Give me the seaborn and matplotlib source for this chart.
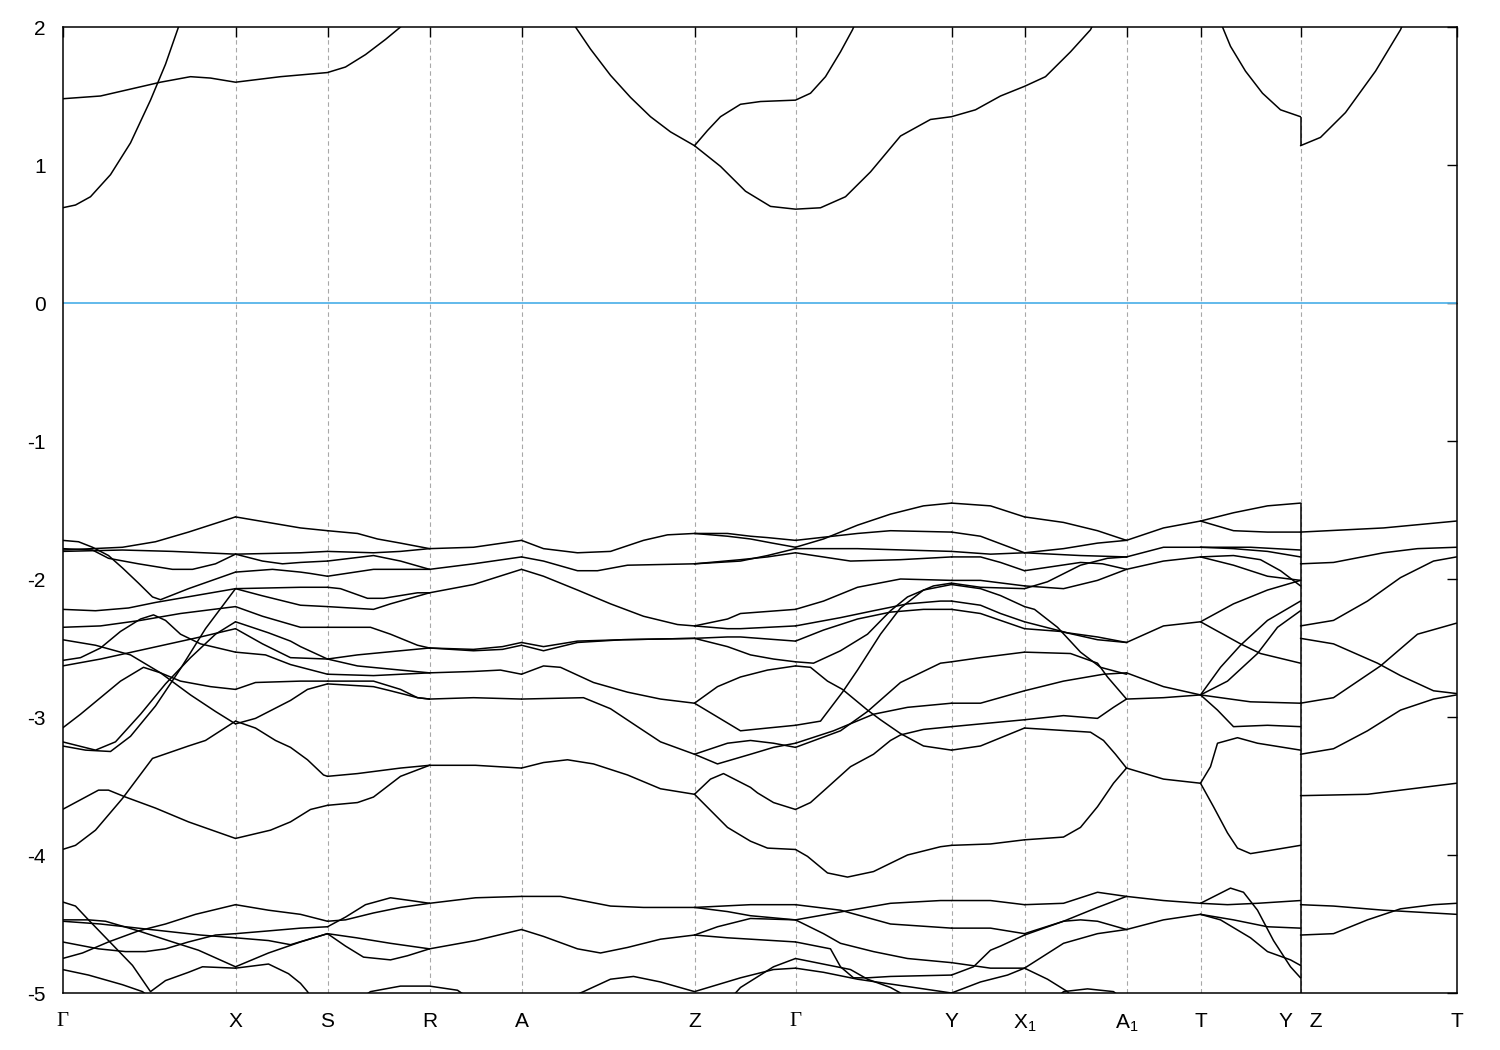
import pandas as pd
import matplotlib
matplotlib.use("Agg")
import matplotlib.pyplot as plt
import seaborn as sns

# high-symmetry points along the k-path (arb. path length)
k_ticks = [0, 173, 265, 367, 459, 632, 733, 889, 962, 1064, 1138, 1238, 1394]
k_labels = ["Γ", "X", "S", "R", "A", "Z", "Γ", "Y", "X$_1$", "A$_1$", "T", "Y   Z", "T"]
e_ticks = [-5, -4, -3, -2, -1, 0, 1, 2]

# each band piece: list of (k, E in eV)
cond_bands = [
    [(0, 0.69), (13, 0.71), (28, 0.77), (48, 0.93), (68, 1.16), (88, 1.47), (103, 1.73), (116, 2.0), (124, 2.15)],
    [(0, 1.48), (38, 1.50), (68, 1.55), (98, 1.60), (128, 1.64), (148, 1.63), (173, 1.60), (218, 1.64),
     (265, 1.67), (283, 1.71), (303, 1.80), (323, 1.91), (338, 2.0), (348, 2.08)],
    [(503, 2.1), (513, 2.0), (528, 1.84), (548, 1.65), (568, 1.49), (588, 1.35), (608, 1.24), (632, 1.14)],
    [(632, 1.14), (645, 1.25), (658, 1.35), (678, 1.44), (698, 1.46), (733, 1.47), (748, 1.52), (763, 1.64),
     (778, 1.82), (790, 1.98), (797, 2.1)],
    [(632, 1.14), (658, 0.99), (683, 0.81), (708, 0.70), (733, 0.68), (758, 0.69), (783, 0.77), (808, 0.95),
     (838, 1.21), (868, 1.33), (889, 1.35), (913, 1.40), (938, 1.50), (962, 1.57), (983, 1.64), (1008, 1.82),
     (1028, 1.98), (1036, 2.1)],
    [(1152, 2.1), (1160, 2.0), (1168, 1.86), (1183, 1.68), (1200, 1.52), (1218, 1.40), (1238, 1.35)],
    [(1238, 1.14), (1258, 1.20), (1283, 1.38), (1313, 1.68), (1338, 1.98), (1345, 2.1)],
]

gx_bands = [
    [(0, -1.79), (60, -1.77), (93, -1.73), (126, -1.66), (173, -1.55)],
    [(0, -1.78), (30, -1.79), (46, -1.85), (76, -1.89), (110, -1.93), (130, -1.93), (153, -1.89), (173, -1.82)],
    [(0, -1.80), (60, -1.79), (110, -1.80), (173, -1.82)],
    [(0, -1.72), (16, -1.73), (30, -1.77), (46, -1.83), (60, -1.92), (76, -2.03), (90, -2.13), (98, -2.15),
     (126, -2.07), (173, -1.95)],
    [(0, -2.22), (33, -2.23), (66, -2.21), (93, -2.17), (133, -2.12), (173, -2.07)],
    [(0, -2.35), (38, -2.34), (78, -2.30), (118, -2.25), (173, -2.20)],
    [(0, -2.59), (18, -2.57), (38, -2.50), (58, -2.38), (78, -2.29), (91, -2.26), (103, -2.30), (118, -2.40),
     (138, -2.47), (173, -2.53)],
    [(0, -2.63), (38, -2.58), (88, -2.50), (138, -2.42), (173, -2.36)],
    [(0, -2.44), (33, -2.48), (68, -2.55), (98, -2.68), (128, -2.84), (153, -2.96), (173, -3.05)],
    [(0, -3.08), (18, -2.98), (38, -2.86), (58, -2.74), (81, -2.64), (98, -2.68), (118, -2.74), (148, -2.78), (173, -2.80)],
    [(0, -3.18), (33, -3.24), (53, -3.18), (78, -2.98), (103, -2.76), (128, -2.57), (153, -2.40), (173, -2.31)],
    [(0, -3.21), (23, -3.24), (48, -3.25), (68, -3.14), (93, -2.92), (118, -2.65), (143, -2.36), (173, -2.07)],
    [(0, -3.67), (18, -3.60), (36, -3.53), (46, -3.53), (63, -3.58), (93, -3.66), (126, -3.76), (173, -3.88)],
    [(0, -3.96), (13, -3.93), (33, -3.82), (60, -3.59), (90, -3.30), (126, -3.21), (143, -3.17), (173, -3.03)],
    [(0, -4.34), (13, -4.37), (26, -4.47), (46, -4.62), (70, -4.80), (88, -4.99), (103, -4.91), (126, -4.85),
     (140, -4.81), (173, -4.82)],
    [(0, -4.47), (26, -4.47), (43, -4.48), (76, -4.55), (110, -4.63), (136, -4.69), (173, -4.81)],
    [(0, -4.48), (38, -4.50), (88, -4.54), (138, -4.58), (173, -4.60)],
    [(0, -4.63), (36, -4.68), (63, -4.70), (83, -4.70), (103, -4.68), (126, -4.63), (153, -4.58), (173, -4.57)],
    [(0, -4.75), (20, -4.71), (46, -4.63), (76, -4.55), (103, -4.50), (133, -4.43), (173, -4.36)],
    [(0, -4.83), (26, -4.87), (60, -4.94), (80, -4.99), (90, -5.05)],
]

xs_bands = [
    [(173, -1.55), (238, -1.63), (265, -1.65)],
    [(173, -1.82), (238, -1.81), (265, -1.80)],
    [(173, -1.82), (200, -1.87), (220, -1.89), (238, -1.88), (265, -1.87)],
    [(173, -1.95), (210, -1.93), (238, -1.95), (248, -1.96), (265, -1.98)],
    [(173, -2.07), (238, -2.06), (265, -2.06)],
    [(173, -2.07), (199, -2.12), (238, -2.19), (265, -2.20)],
    [(173, -2.20), (200, -2.27), (238, -2.35), (265, -2.35)],
    [(173, -2.31), (206, -2.39), (228, -2.45), (238, -2.49), (265, -2.58)],
    [(173, -2.36), (200, -2.47), (228, -2.57), (265, -2.58)],
    [(173, -2.53), (203, -2.55), (228, -2.62), (265, -2.69)],
    [(173, -2.80), (193, -2.75), (238, -2.74), (265, -2.74)],
    [(173, -3.05), (193, -3.01), (228, -2.88), (245, -2.80), (265, -2.76)],
    [(173, -3.03), (193, -3.08), (213, -3.17), (228, -3.22), (245, -3.31), (261, -3.42), (265, -3.43)],
    [(173, -3.88), (208, -3.82), (228, -3.76), (248, -3.67), (265, -3.64)],
    [(173, -4.36), (206, -4.40), (238, -4.43), (265, -4.48)],
    [(173, -4.57), (206, -4.55), (238, -4.53), (265, -4.52)],
    [(173, -4.60), (206, -4.62), (228, -4.65), (265, -4.57)],
    [(173, -4.81), (206, -4.71), (238, -4.63), (265, -4.57)],
    [(173, -4.82), (206, -4.79), (226, -4.86), (238, -4.93), (245, -4.99), (250, -5.05)],
]

sr_bands = [
    [(265, -1.65), (295, -1.67), (315, -1.71), (338, -1.74), (367, -1.78)],
    [(265, -1.80), (311, -1.81), (338, -1.80), (367, -1.78)],
    [(265, -1.87), (311, -1.83), (338, -1.87), (367, -1.93)],
    [(265, -1.98), (311, -1.93), (345, -1.93), (367, -1.93)],
    [(265, -2.06), (278, -2.07), (305, -2.14), (321, -2.14), (355, -2.10), (367, -2.10)],
    [(265, -2.20), (311, -2.22), (328, -2.18), (367, -2.10)],
    [(265, -2.35), (308, -2.35), (328, -2.40), (355, -2.48), (367, -2.50)],
    [(265, -2.58), (295, -2.55), (338, -2.52), (367, -2.50)],
    [(265, -2.58), (295, -2.63), (338, -2.66), (367, -2.68)],
    [(265, -2.69), (311, -2.70), (367, -2.68)],
    [(265, -2.74), (311, -2.74), (338, -2.80), (355, -2.86), (367, -2.87)],
    [(265, -2.76), (311, -2.78), (328, -2.81), (355, -2.86), (367, -2.87)],
    [(265, -3.43), (295, -3.41), (338, -3.37), (367, -3.35)],
    [(265, -3.64), (295, -3.62), (311, -3.58), (338, -3.43), (367, -3.35)],
    [(265, -4.48), (283, -4.47), (311, -4.42), (338, -4.38), (367, -4.35)],
    [(265, -4.52), (283, -4.45), (303, -4.36), (328, -4.31), (348, -4.33), (367, -4.35)],
    [(265, -4.57), (294, -4.60), (328, -4.64), (367, -4.68)],
    [(265, -4.57), (283, -4.66), (301, -4.74), (328, -4.76), (345, -4.73), (367, -4.68)],
    [(300, -5.03), (308, -4.99), (338, -4.95), (367, -4.95), (395, -4.98), (405, -5.03)],
]

ra_bands = [
    [(367, -1.78), (411, -1.77), (459, -1.72)],
    [(367, -1.93), (411, -1.89), (459, -1.84)],
    [(367, -2.10), (411, -2.04), (459, -1.93)],
    [(367, -2.50), (411, -2.51), (440, -2.49), (459, -2.46)],
    [(367, -2.50), (411, -2.52), (440, -2.51), (459, -2.48)],
    [(367, -2.68), (411, -2.67), (438, -2.66), (459, -2.69)],
    [(367, -2.87), (411, -2.86), (459, -2.87)],
    [(367, -3.35), (413, -3.35), (459, -3.37)],
    [(367, -4.35), (413, -4.31), (459, -4.30)],
    [(367, -4.68), (413, -4.62), (459, -4.54)],
]

az_bands = [
    [(459, -1.72), (481, -1.78), (515, -1.81), (548, -1.80), (581, -1.72), (605, -1.68), (632, -1.67)],
    [(459, -1.84), (481, -1.87), (515, -1.94), (535, -1.94), (565, -1.90), (632, -1.89)],
    [(459, -1.93), (481, -1.98), (515, -2.08), (548, -2.18), (581, -2.27), (615, -2.33), (632, -2.34)],
    [(459, -2.46), (481, -2.49), (515, -2.45), (560, -2.44), (632, -2.43)],
    [(459, -2.48), (481, -2.52), (515, -2.46), (560, -2.44), (632, -2.43)],
    [(459, -2.69), (481, -2.63), (498, -2.64), (531, -2.75), (565, -2.82), (598, -2.87), (632, -2.90)],
    [(459, -2.87), (521, -2.86), (548, -2.94), (575, -3.07), (598, -3.18), (632, -3.27)],
    [(459, -3.37), (481, -3.33), (505, -3.31), (531, -3.34), (565, -3.42), (598, -3.52), (632, -3.56)],
    [(459, -4.30), (498, -4.30), (548, -4.37), (581, -4.38), (632, -4.38)],
    [(459, -4.54), (481, -4.59), (515, -4.68), (538, -4.71), (565, -4.67), (598, -4.61), (632, -4.58)],
    [(505, -5.04), (521, -4.99), (548, -4.90), (571, -4.88), (598, -4.92), (632, -4.99), (655, -4.94),
     (678, -4.89), (711, -4.83), (733, -4.82)],
    [(668, -5.04), (673, -5.0), (678, -4.96), (711, -4.81), (733, -4.75)],
]

zg_bands = [
    [(632, -1.67), (665, -1.67), (688, -1.69), (705, -1.70), (733, -1.72)],
    [(632, -1.67), (665, -1.69), (688, -1.71), (710, -1.74), (733, -1.77)],
    [(632, -1.89), (678, -1.87), (705, -1.83), (733, -1.78)],
    [(632, -1.89), (678, -1.86), (705, -1.84), (733, -1.81)],
    [(632, -2.34), (665, -2.29), (678, -2.25), (733, -2.22)],
    [(632, -2.34), (665, -2.36), (678, -2.36), (733, -2.34)],
    [(632, -2.43), (665, -2.42), (678, -2.42), (733, -2.45)],
    [(632, -2.43), (665, -2.49), (688, -2.55), (711, -2.58), (733, -2.60)],
    [(632, -2.90), (655, -2.78), (678, -2.71), (705, -2.66), (733, -2.63)],
    [(632, -2.90), (655, -3.00), (678, -3.10), (705, -3.08), (733, -3.06)],
    [(632, -3.27), (655, -3.34), (688, -3.27), (711, -3.22), (733, -3.19)],
    [(632, -3.27), (665, -3.19), (688, -3.17), (711, -3.19), (733, -3.22)],
    [(632, -3.56), (648, -3.45), (661, -3.41), (688, -3.51), (695, -3.55), (711, -3.62), (733, -3.67)],
    [(632, -3.56), (665, -3.80), (688, -3.90), (705, -3.95), (733, -3.96)],
    [(632, -4.38), (665, -4.41), (688, -4.44), (733, -4.47)],
    [(632, -4.38), (688, -4.36), (733, -4.36)],
    [(632, -4.58), (655, -4.52), (688, -4.46), (733, -4.47)],
    [(632, -4.58), (665, -4.60), (688, -4.61), (733, -4.63)],
]

gy_bands = [
    [(733, -1.77), (761, -1.71), (795, -1.61), (828, -1.53), (861, -1.47), (889, -1.45)],
    [(733, -1.72), (795, -1.67), (828, -1.65), (889, -1.66)],
    [(733, -1.78), (795, -1.78), (889, -1.80)],
    [(733, -1.81), (788, -1.87), (838, -1.86), (889, -1.84)],
    [(733, -2.22), (761, -2.16), (795, -2.06), (838, -2.00), (889, -2.01)],
    [(733, -2.34), (778, -2.28), (811, -2.23), (845, -2.18), (878, -2.16), (889, -2.16)],
    [(733, -2.45), (761, -2.37), (795, -2.29), (828, -2.24), (861, -2.22), (889, -2.22)],
    [(733, -2.60), (751, -2.61), (778, -2.52), (805, -2.40), (828, -2.23), (845, -2.13), (871, -2.05), (889, -2.03)],
    [(733, -2.63), (748, -2.64), (765, -2.74), (780, -2.80), (805, -2.95), (818, -3.02), (838, -3.12),
     (861, -3.21), (889, -3.24)],
    [(733, -3.06), (758, -3.03), (780, -2.82), (795, -2.66), (818, -2.40), (838, -2.21), (861, -2.08), (889, -2.04)],
    [(733, -3.19), (771, -3.10), (811, -2.98), (845, -2.93), (889, -2.90)],
    [(733, -3.22), (778, -3.10), (805, -2.96), (838, -2.75), (878, -2.61), (889, -2.60)],
    [(733, -3.67), (748, -3.62), (765, -3.51), (788, -3.36), (811, -3.27), (828, -3.17), (838, -3.13),
     (861, -3.09), (889, -3.07)],
    [(733, -3.96), (745, -4.01), (765, -4.13), (785, -4.16), (811, -4.12), (845, -4.00), (878, -3.94), (889, -3.93)],
    [(733, -4.36), (778, -4.40), (828, -4.50), (889, -4.53)],
    [(733, -4.47), (788, -4.40), (828, -4.35), (878, -4.33), (889, -4.33)],
    [(733, -4.47), (761, -4.57), (778, -4.64), (811, -4.70), (845, -4.75), (889, -4.78)],
    [(733, -4.63), (768, -4.68), (778, -4.81), (791, -4.89), (805, -4.89), (828, -4.88), (889, -4.87)],
    [(733, -4.82), (761, -4.85), (795, -4.90), (861, -4.97), (889, -5.0)],
    [(733, -4.75), (788, -4.83), (805, -4.90), (828, -4.96), (838, -5.0), (845, -5.04)],
]

yx1_bands = [
    [(889, -1.45), (928, -1.47), (962, -1.55)],
    [(889, -1.66), (918, -1.69), (962, -1.81)],
    [(889, -1.80), (928, -1.82), (962, -1.81)],
    [(889, -1.84), (918, -1.84), (938, -1.88), (962, -1.94)],
    [(889, -2.01), (918, -2.01), (962, -2.05)],
    [(889, -2.03), (918, -2.06), (962, -2.07)],
    [(889, -2.04), (918, -2.07), (938, -2.12), (962, -2.20)],
    [(889, -2.16), (918, -2.19), (938, -2.25), (962, -2.31)],
    [(889, -2.22), (918, -2.25), (962, -2.36)],
    [(889, -2.60), (918, -2.57), (962, -2.53)],
    [(889, -2.90), (918, -2.90), (962, -2.81)],
    [(889, -3.07), (918, -3.05), (962, -3.02)],
    [(889, -3.24), (918, -3.21), (962, -3.08)],
    [(889, -3.93), (928, -3.92), (962, -3.89)],
    [(889, -4.33), (928, -4.33), (962, -4.36)],
    [(889, -4.53), (928, -4.53), (962, -4.57)],
    [(889, -4.78), (928, -4.82), (962, -4.82)],
    [(889, -4.87), (911, -4.81), (928, -4.69), (938, -4.66), (962, -4.58)],
    [(889, -5.0), (918, -4.92), (945, -4.87), (962, -4.82)],
]

x1a1_bands = [
    [(962, -1.55), (1001, -1.59), (1035, -1.65), (1064, -1.72)],
    [(962, -1.81), (1018, -1.83), (1064, -1.84)],
    [(962, -1.81), (1001, -1.78), (1035, -1.74), (1064, -1.72)],
    [(962, -1.94), (1018, -1.88), (1040, -1.89), (1064, -1.93)],
    [(962, -2.05), (1001, -2.07), (1035, -2.01), (1064, -1.93)],
    [(962, -2.07), (985, -2.02), (1018, -1.90), (1045, -1.85), (1064, -1.84)],
    [(962, -2.20), (972, -2.22), (995, -2.35), (1018, -2.53), (1038, -2.64), (1064, -2.69)],
    [(962, -2.31), (1005, -2.39), (1035, -2.42), (1064, -2.46)],
    [(962, -2.36), (998, -2.38), (1035, -2.44), (1064, -2.46)],
    [(962, -2.53), (1008, -2.54), (1035, -2.61), (1045, -2.71), (1064, -2.87)],
    [(962, -2.81), (1001, -2.74), (1041, -2.69), (1064, -2.68)],
    [(962, -3.02), (1001, -2.99), (1035, -3.01), (1051, -2.93), (1064, -2.87)],
    [(962, -3.08), (1028, -3.11), (1041, -3.17), (1053, -3.27), (1064, -3.37)],
    [(962, -3.89), (1001, -3.87), (1018, -3.80), (1035, -3.65), (1051, -3.48), (1064, -3.37)],
    [(962, -4.36), (1001, -4.35), (1035, -4.27), (1064, -4.30)],
    [(962, -4.57), (1001, -4.48), (1018, -4.47), (1035, -4.48), (1064, -4.54)],
    [(962, -4.58), (1001, -4.48), (1035, -4.38), (1064, -4.30)],
    [(962, -4.82), (1001, -4.64), (1035, -4.57), (1064, -4.54)],
    [(962, -4.82), (985, -4.90), (1005, -4.99), (1010, -5.04)],
    [(995, -5.03), (1001, -4.99), (1025, -4.97), (1051, -4.99), (1058, -5.03)],
]

a1t_bands = [
    [(1064, -1.72), (1101, -1.63), (1138, -1.58)],
    [(1064, -1.84), (1101, -1.77), (1138, -1.77)],
    [(1064, -1.93), (1101, -1.87), (1138, -1.84)],
    [(1064, -2.46), (1101, -2.34), (1138, -2.31)],
    [(1064, -2.68), (1101, -2.78), (1138, -2.84)],
    [(1064, -2.87), (1101, -2.86), (1138, -2.84)],
    [(1064, -3.37), (1101, -3.45), (1138, -3.48)],
    [(1064, -4.30), (1101, -4.33), (1138, -4.35)],
    [(1064, -4.54), (1101, -4.47), (1138, -4.43)],
]

ty_bands = [
    [(1138, -1.58), (1171, -1.52), (1205, -1.47), (1238, -1.45)],
    [(1138, -1.58), (1171, -1.65), (1205, -1.66), (1238, -1.66)],
    [(1138, -1.77), (1188, -1.77), (1238, -1.79)],
    [(1138, -1.77), (1171, -1.78), (1205, -1.80), (1238, -1.84)],
    [(1138, -1.84), (1171, -1.83), (1198, -1.86), (1218, -1.94), (1238, -2.05)],
    [(1138, -1.84), (1171, -1.90), (1205, -1.98), (1238, -2.01)],
    [(1138, -2.31), (1171, -2.18), (1205, -2.08), (1238, -2.01)],
    [(1138, -2.31), (1178, -2.47), (1198, -2.54), (1238, -2.61)],
    [(1138, -2.84), (1158, -2.64), (1178, -2.48), (1205, -2.30), (1238, -2.16)],
    [(1138, -2.84), (1165, -2.74), (1195, -2.54), (1215, -2.35), (1238, -2.23)],
    [(1138, -2.84), (1188, -2.89), (1238, -2.90)],
    [(1138, -2.84), (1155, -2.95), (1171, -3.07), (1205, -3.06), (1238, -3.07)],
    [(1138, -3.48), (1148, -3.36), (1155, -3.19), (1175, -3.15), (1195, -3.19), (1238, -3.24)],
    [(1138, -3.48), (1151, -3.65), (1165, -3.84), (1175, -3.95), (1188, -3.99), (1205, -3.97), (1238, -3.93)],
    [(1138, -4.35), (1168, -4.24), (1181, -4.27), (1195, -4.40), (1211, -4.62), (1228, -4.81), (1238, -4.89)],
    [(1138, -4.35), (1165, -4.36), (1195, -4.35), (1238, -4.33)],
    [(1138, -4.43), (1158, -4.47), (1188, -4.60), (1205, -4.70), (1228, -4.76), (1238, -4.80)],
    [(1138, -4.43), (1171, -4.47), (1205, -4.52), (1238, -4.53)],
]

zt_bands = [
    [(1238, -1.66), (1321, -1.63), (1394, -1.58)],
    [(1238, -1.89), (1271, -1.88), (1321, -1.81), (1355, -1.78), (1394, -1.77)],
    [(1238, -2.34), (1271, -2.30), (1305, -2.16), (1338, -1.99), (1371, -1.87), (1394, -1.84)],
    [(1238, -2.43), (1271, -2.47), (1315, -2.61), (1338, -2.70), (1371, -2.81), (1394, -2.83)],
    [(1238, -2.90), (1271, -2.86), (1318, -2.63), (1355, -2.40), (1394, -2.32)],
    [(1238, -3.27), (1271, -3.23), (1305, -3.10), (1338, -2.95), (1371, -2.87), (1394, -2.84)],
    [(1238, -3.57), (1305, -3.56), (1394, -3.48)],
    [(1238, -4.36), (1271, -4.37), (1321, -4.40), (1394, -4.43)],
    [(1238, -4.58), (1271, -4.57), (1305, -4.47), (1338, -4.39), (1371, -4.36), (1394, -4.35)],
]

# vertical jumps where the path breaks at Y|Z
yz_jump_lo = [-5.0, 1.14]
yz_jump_hi = [-1.45, 1.35]

segments = [cond_bands, gx_bands, xs_bands, sr_bands, ra_bands, az_bands, zg_bands,
            gy_bands, yx1_bands, x1a1_bands, a1t_bands, ty_bands, zt_bands]
rows = []
uid = 0
for seg in segments:
    for band in seg:
        for k, e in band:
            rows.append((uid, k, e))
        uid += 1
df = pd.DataFrame(rows, columns=["band", "k", "E"])

sns.set_theme(style="white")
plt.rcParams["font.family"] = ["Liberation Sans", "DejaVu Sans"]
plt.rcParams["mathtext.fontset"] = "custom"
plt.rcParams["mathtext.rm"] = "Liberation Sans"
plt.rcParams["mathtext.it"] = "Liberation Sans"

fig = plt.figure(figsize=(15, 10.5), dpi=100)
ax = fig.add_axes([62.5 / 1500, 57 / 1050, 1394 / 1500, 966 / 1050])

for k in k_ticks[1:-1]:
    ax.axvline(k, color="#a8a8a8", lw=0.8, ls=(0, (4, 3)), zorder=0)
ax.axhline(0, color="#56b4e9", lw=1.3, zorder=1)

sns.lineplot(data=df, x="k", y="E", units="band", estimator=None, sort=False,
             color="black", lw=1.1, ax=ax, legend=False)
ax.vlines([k_ticks[11]] * 2, yz_jump_lo, yz_jump_hi, color="black", lw=1.1)

ax.set_xlim(k_ticks[0], k_ticks[-1])
ax.set_ylim(-5, 2)
ax.set_xticks(k_ticks)
ax.set_xticklabels(k_labels)
ax.set_yticks(e_ticks)
ax.set_yticklabels([str(v) for v in e_ticks])
ax.set_xlabel("")
ax.set_ylabel("")
ax.tick_params(direction="in", length=7, width=1, labelsize=15, top=True, right=True, colors="black")
ax.tick_params(axis="x", pad=14)
ax.tick_params(axis="y", pad=12)
for lbl in ax.get_xticklabels():
    if lbl.get_text() == "Γ":
        lbl.set_family(["Liberation Serif", "DejaVu Serif"])
for sp in ax.spines.values():
    sp.set_color("black")
    sp.set_linewidth(1.1)

fig.savefig("out.png", dpi=100)
